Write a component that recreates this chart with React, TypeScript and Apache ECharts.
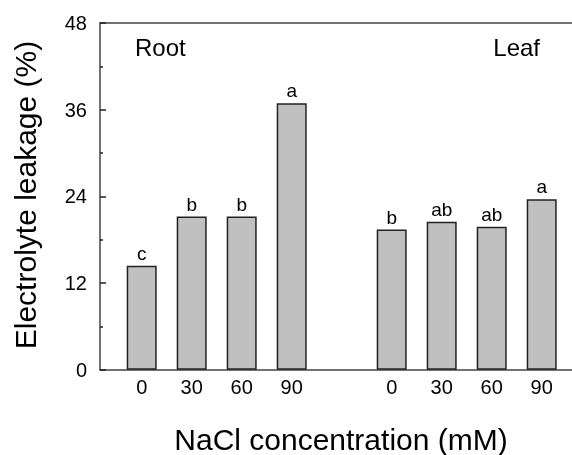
import React, { useEffect, useRef } from "react";
import * as echarts from "echarts";

const concentrations = ["0", "30", "60", "90"];
const rootValues = [14.4, 21.2, 21.2, 36.9];
const rootLetters = ["c", "b", "b", "a"];
const leafValues = [19.4, 20.5, 19.8, 23.6];
const leafLetters = ["b", "ab", "ab", "a"];
const yTicks = { min: 0, max: 48, interval: 12 };

export default function App() {
  const ref = useRef<HTMLDivElement>(null);
  useEffect(() => {
    if (!ref.current) return;
    const chart = echarts.init(ref.current, null, { renderer: "svg" });
    const cats = [...concentrations, "", ...concentrations];
    const vals: (number | null)[] = [...rootValues, null, ...leafValues];
    const letters = [...rootLetters, "", ...leafLetters];
    const font = "Arial, 'Liberation Sans', sans-serif";
    const top = 23;
    const bottom = 85.3;
    chart.setOption({
      animation: false,
      grid: [
        { left: 100, right: 0, top, bottom },
        { left: 116.7, width: 450, top, bottom },
      ],
      xAxis: [
        {
          gridIndex: 0, type: "value", min: 0, max: 1, position: "bottom",
          axisLine: { show: true, lineStyle: { color: "#444", width: 1.5 } },
          axisTick: { show: false }, axisLabel: { show: false }, splitLine: { show: false },
        },
        {
          gridIndex: 0, type: "value", min: 0, max: 1, position: "top",
          axisLine: { show: true, lineStyle: { color: "#444", width: 1.5 } },
          axisTick: { show: false }, axisLabel: { show: false }, splitLine: { show: false },
        },
        {
          gridIndex: 1, type: "category", data: cats,
          axisLine: { show: false }, axisTick: { show: false },
          axisLabel: { color: "#000", fontSize: 20, fontFamily: font, margin: 7 },
        },
      ],
      yAxis: [
        {
          gridIndex: 0, type: "value", ...yTicks,
          axisLine: { show: true, lineStyle: { color: "#444", width: 1.5 } },
          axisTick: { show: true, inside: true, length: 6, lineStyle: { color: "#222", width: 1.5 } },
          minorTick: { show: true, splitNumber: 2, length: 3, lineStyle: { color: "#222", width: 1.5 } },
          axisLabel: { color: "#000", fontSize: 20, fontFamily: font, margin: 13 },
          splitLine: { show: false },
        },
        {
          gridIndex: 1, type: "value", ...yTicks, show: false,
        },
      ],
      series: [
        {
          type: "bar", xAxisIndex: 2, yAxisIndex: 1, data: vals, barWidth: 30,
          itemStyle: { color: "#c0c0c0", borderColor: "#222", borderWidth: 1.5 },
          label: {
            show: true, position: "top", distance: 3, color: "#000", fontSize: 19, fontFamily: font,
            formatter: (p: any) => letters[p.dataIndex],
          },
        },
      ],
      graphic: [
        { type: "text", x: 135, y: 47, style: { text: "Root", font: `24px ${font}`, fill: "#000", textAlign: "left", textVerticalAlign: "middle" } },
        { type: "text", x: 540, y: 47, style: { text: "Leaf", font: `24px ${font}`, fill: "#000", textAlign: "right", textVerticalAlign: "middle" } },
        { type: "text", x: 25, y: 195, rotation: Math.PI / 2, style: { text: "Electrolyte leakage (%)", font: `30px ${font}`, fill: "#000", textAlign: "center", textVerticalAlign: "middle" } },
        { type: "text", x: 341, y: 439, style: { text: "NaCl concentration (mM)", font: `30px ${font}`, fill: "#000", textAlign: "center", textVerticalAlign: "middle" } },
      ],
    });
    return () => chart.dispose();
  }, []);
  return <div ref={ref} style={{ position: "fixed", left: 0, top: 0, width: 572, height: 455 }} />;
}
